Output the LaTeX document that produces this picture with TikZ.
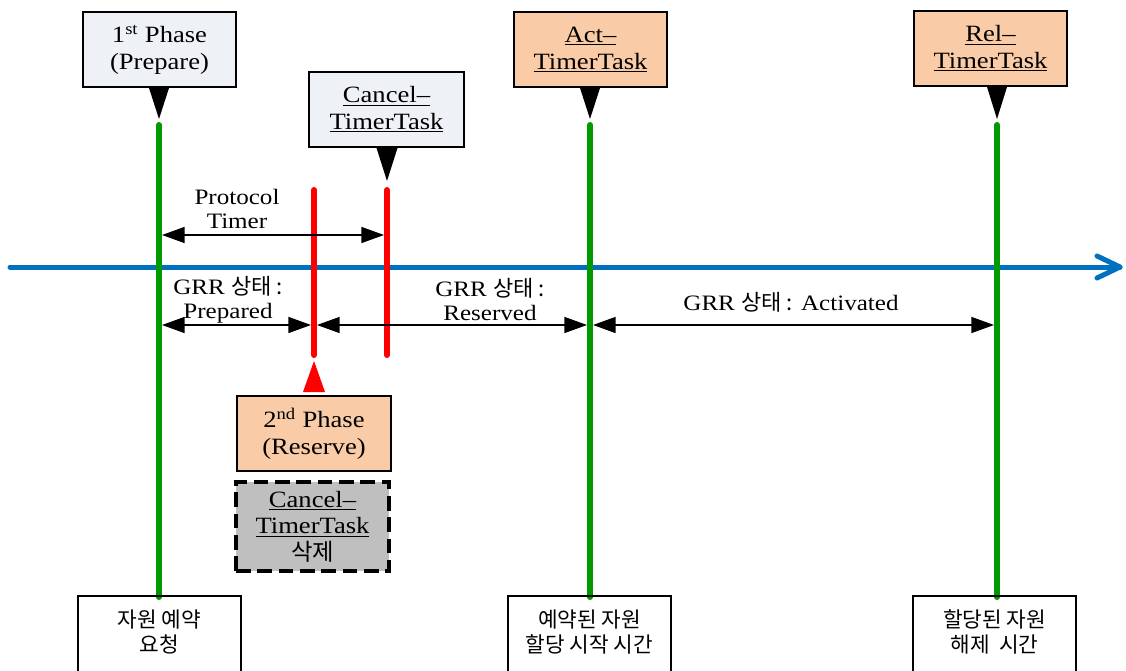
\documentclass[tikz,border=0pt]{standalone}
\usepackage{fontspec}
\setmainfont[FakeStretch=1.14]{Liberation Serif}
\newfontfamily\kr{Noto Sans CJK KR}
\usetikzlibrary{arrows.meta,calc}

\definecolor{boxgray}{HTML}{EEF2F7}
\definecolor{peach}{HTML}{F9CBA6}
\definecolor{dashgray}{HTML}{BFBFBF}
\definecolor{phasegreen}{HTML}{009A00}
\definecolor{axisblue}{HTML}{0070C0}

\begin{document}
\begin{tikzpicture}[x=0.75pt,y=-0.75pt,
  taskbox/.style={draw=black, line width=1.5pt, minimum width=114.75pt, minimum height=56.25pt,
    align=center, inner sep=0pt, font=\fontsize{17.5}{20}\selectfont},
  infobox/.style={taskbox, fill=boxgray},
  actbox/.style={taskbox, fill=peach},
  dropbox/.style={taskbox, fill=dashgray, line width=2.4pt, dash pattern=on 11pt off 5pt, minimum height=66.75pt},
  endbox/.style={draw=black, line width=1.2pt, minimum width=122.25pt, minimum height=61.5pt, inner sep=0pt},
  endtext/.style={align=center, font=\kr\fontsize{16}{19}\selectfont},
  lbl/.style={align=center, inner sep=0pt, font=\fontsize{16.5}{18}\selectfont},
  greenline/.style={phasegreen, line width=4.5pt, line cap=round},
  redline/.style={red, line width=4.5pt, line cap=round},
  span/.style={line width=1.1pt, {Triangle[length=17pt,width=12pt]}-{Triangle[length=17pt,width=12pt]},
    shorten <=2.25pt, shorten >=2.25pt}
]
\useasboundingbox (0,0) rectangle (1126,670);

% time axis
\coordinate (ax0) at (10,267);
\coordinate (ax1) at (1120,267);
\draw[axisblue, line width=3.75pt, line cap=round] (ax0) -- (ax1);
\draw[axisblue, line width=3.75pt, line cap=round, line join=round]
  ($(ax1)+(-23,-11)$) -- (ax1) -- ($(ax1)+(-23,11)$);

% phase lines
\coordinate (g1t) at (159,125); \coordinate (g1b) at (159,597);
\coordinate (g2t) at (590,125); \coordinate (g2b) at (590,597);
\coordinate (g3t) at (997,125); \coordinate (g3b) at (997,597);
\coordinate (r1t) at (314,190); \coordinate (r1b) at (314,355);
\coordinate (r2t) at (387,190); \coordinate (r2b) at (387,355);
\draw[greenline] (g1t) -- (g1b);
\draw[greenline] (g2t) -- (g2b);
\draw[greenline] (g3t) -- (g3b);
\draw[redline] (r1t) -- (r1b);
\draw[redline] (r2t) -- (r2b);

% interval arrows
\coordinate (rowT) at (0,235);
\coordinate (rowS) at (0,325);
\draw[span] (g1t |- rowT) -- (r2t |- rowT);
\draw[span] (g1t |- rowS) -- (r1t |- rowS);
\draw[span] (r1t |- rowS) -- (g2t |- rowS);
\draw[span] (g2t |- rowS) -- (g3t |- rowS);

\node[lbl] (lp) at (237,209) {Protocol\\Timer};
\node[lbl] (ls1) at (228,300) {GRR {\kr 상태 :}\\Prepared};
\node[lbl] (ls2) at (490,300) {GRR {\kr 상태 :}\\Reserved};
\node[lbl] (ls3) at (791,302) {GRR {\kr 상태 :} Activated};

% task boxes
\node[infobox] (b1) at (159.5,49.5) {1\textsuperscript{st} Phase\\(Prepare)};
\node[infobox, minimum width=116.25pt] (bc) at (386.5,109.5) {\underline{Cancel--}\\\underline{TimerTask}};
\node[actbox] (ba) at (590.5,49.5) {\underline{Act--}\\\underline{TimerTask}};
\node[actbox] (br) at (990.5,48.5) {\underline{Rel--}\\\underline{TimerTask}};
\node[actbox, minimum width=115.5pt] (b2) at (314,433.5) {2\textsuperscript{nd} Phase\\(Reserve)};
\node[dropbox] (bd) at (312.5,526.5) {\underline{Cancel--}\\\underline{TimerTask}\\{\kr 삭제}};

% pointers
\fill[black] ($(b1.south -| g1t)+(-10,0)$) -- ($(b1.south -| g1t)+(10,0)$) -- ($(b1.south -| g1t)+(0,31)$) -- cycle;
\fill[black] ($(bc.south -| r2t)+(-10.5,0)$) -- ($(bc.south -| r2t)+(10.5,0)$) -- ($(bc.south -| r2t)+(0,33)$) -- cycle;
\fill[black] ($(ba.south -| g2t)+(-10,0)$) -- ($(ba.south -| g2t)+(10,0)$) -- ($(ba.south -| g2t)+(0,31)$) -- cycle;
\fill[black] ($(br.south -| g3t)+(-10,0)$) -- ($(br.south -| g3t)+(10,0)$) -- ($(br.south -| g3t)+(0,32)$) -- cycle;
\fill[red] ($(b2.north -| r1t)+(-11,-3)$) -- ($(b2.north -| r1t)+(11,-3)$) -- ($(b2.north -| r1t)+(0,-34)$) -- cycle;

% event boxes
\node[endbox] (e1) at (159.5,637) {};
\node[endbox] (e2) at (589.5,637) {};
\node[endbox] (e3) at (994.5,637) {};
\node[endtext] (e1t) at (159.5,632) {자원 예약\\요청};
\node[endtext] (e2t) at (589.5,632) {예약된 자원\\할당 시작 시간};
\node[endtext] (e3t) at (994.5,632) {할당된 자원\\해제\ \ 시간};
\end{tikzpicture}
\end{document}
